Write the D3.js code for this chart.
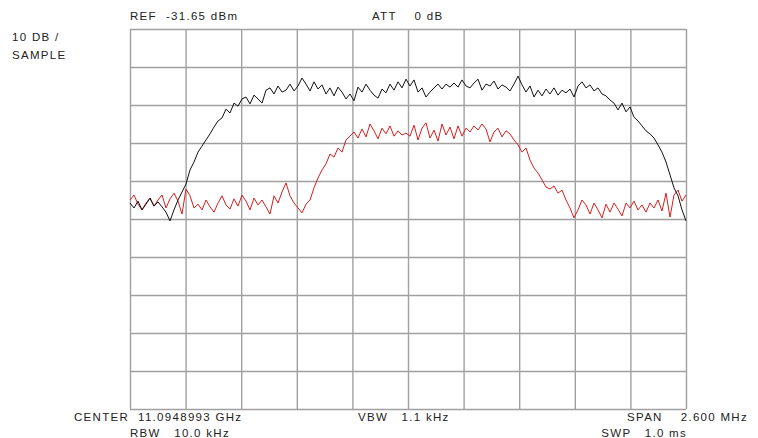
<!DOCTYPE html>
<html>
    <head>
        <meta charset="utf-8">
        <title>Spectrum Trace</title>
        <script type="text/javascript" src="https://d3js.org/d3.v7.min.js"></script>
        <style>
            body { margin: 0; background: #fff; }
            text { font-family: "Liberation Sans", Arial, sans-serif; font-size: 11.5px; fill: #222; letter-spacing: 1.3px; }
        </style>
    </head>
    <body>
        <svg id="svg"></svg>

        <script>

            var WIDTH = 758;
            var HEIGHT = 438;
            var LEFT = 130, RIGHT = 686, TOP = 29, BOTTOM = 409;

            // span 2.6 MHz around center, 10 dB / div below REF
            var SPAN = 2.6;
            var DIVS = 10;
            var N = 140;

            // trace levels in dB relative to REF, equally spaced across the span
            var blackTrace = [
                -45.8,-47.1,-45.3,-47.6,-46.1,-44.5,-46.6,-45.5,-46.8,-48.2,
                -50.5,-47.6,-45.0,-42.9,-40.8,-37.1,-35.0,-32.4,-30.8,-29.2,
                -27.6,-25.8,-24.2,-23.4,-21.1,-22.1,-19.5,-20.3,-18.4,-17.9,
                -19.7,-17.4,-18.4,-19.5,-16.1,-15.5,-17.1,-15.0,-16.6,-16.1,
                -14.5,-16.3,-15.0,-12.9,-14.5,-16.3,-13.9,-15.8,-14.7,-17.1,
                -15.5,-17.6,-15.3,-16.6,-18.4,-17.1,-18.9,-15.3,-16.6,-14.5,
                -16.1,-17.4,-18.2,-15.8,-16.8,-14.5,-16.1,-13.9,-15.5,-13.2,
                -15.0,-13.4,-16.6,-15.5,-17.9,-16.6,-15.5,-14.5,-15.8,-14.5,
                -15.3,-14.2,-15.3,-13.4,-15.0,-15.5,-14.2,-13.2,-16.1,-14.5,
                -15.0,-13.7,-15.8,-14.7,-15.3,-16.3,-14.5,-12.4,-14.7,-16.6,
                -15.0,-17.9,-16.1,-17.6,-15.8,-17.1,-15.5,-17.4,-16.1,-16.8,
                -15.8,-17.9,-15.0,-13.9,-15.5,-14.7,-16.3,-15.5,-17.1,-17.6,
                -18.7,-19.5,-21.3,-19.5,-21.8,-20.5,-23.2,-24.2,-25.5,-26.8,
                -27.6,-28.7,-30.5,-32.4,-35.0,-38.4,-41.8,-43.9,-47.6,-50.5
            ];

            var redTrace = [
                -45.0,-43.7,-46.1,-47.6,-45.8,-44.5,-46.6,-45.0,-43.7,-47.1,
                -44.7,-43.2,-45.3,-48.7,-42.1,-43.9,-47.1,-46.1,-47.6,-45.0,
                -46.8,-48.2,-45.8,-43.9,-46.3,-47.4,-44.7,-46.6,-43.7,-45.3,
                -47.6,-44.5,-46.3,-45.0,-46.8,-48.7,-43.9,-45.8,-42.9,-40.5,
                -43.9,-45.8,-47.1,-48.4,-46.1,-45.0,-41.8,-39.2,-37.1,-35.5,
                -32.9,-33.7,-31.3,-32.4,-29.2,-28.2,-27.1,-28.7,-26.3,-28.4,
                -25.0,-26.8,-28.9,-26.1,-27.6,-25.5,-28.2,-26.8,-27.9,-27.4,
                -28.2,-25.3,-29.2,-26.1,-24.7,-28.7,-26.6,-29.5,-25.0,-27.9,
                -25.8,-28.9,-25.5,-28.2,-26.1,-27.1,-25.5,-26.6,-25.0,-26.3,
                -29.7,-27.1,-26.1,-28.4,-26.8,-27.6,-29.2,-30.5,-32.4,-31.3,
                -34.5,-36.6,-37.9,-39.7,-41.6,-42.1,-41.3,-43.2,-42.4,-45.0,
                -47.1,-49.7,-47.6,-45.0,-46.3,-48.7,-45.8,-47.6,-49.7,-46.1,
                -48.2,-45.8,-47.4,-49.2,-45.8,-47.1,-45.3,-47.6,-46.3,-48.2,
                -45.8,-47.1,-45.0,-47.9,-43.2,-49.5,-43.7,-42.4,-45.3,-43.7
            ];

            var headerLabels = [
                { t: "REF  -31.65 dBm", x: 130, y: 20, a: "start" },
                { t: "ATT    0 dB", x: 372, y: 20, a: "start" },
                { t: "10 DB /", x: 12, y: 41, a: "start" },
                { t: "SAMPLE", x: 12, y: 59, a: "start" }
            ];
            var footerLabels = [
                { t: "CENTER  11.0948993 GHz", x: 74, y: 421, a: "start" },
                { t: "RBW   10.0 kHz", x: 130, y: 437, a: "start" },
                { t: "VBW   1.1 kHz", x: 358, y: 421, a: "start" },
                { t: "SPAN    2.600 MHz", x: 748, y: 421, a: "end" },
                { t: "SWP   1.0 ms", x: 687, y: 437, a: "end" }
            ];

            var svg = d3.select('#svg')
                        .attr('width', WIDTH)
                        .attr('height', HEIGHT);

            var x = d3.scaleLinear().domain([-SPAN/2, SPAN/2]).range([LEFT, RIGHT]);
            var y = d3.scaleLinear().domain([-100, 0]).range([BOTTOM, TOP]);
            var freqAt = function(i){ return -SPAN/2 + i*SPAN/(N-1); };

            var xTicks = d3.range(DIVS+1).map(function(i){ return -SPAN/2 + i*SPAN/DIVS; });
            var yTicks = d3.range(DIVS+1).map(function(i){ return -100 + i*10; });

            svg.append('g')
               .attr('transform', 'translate(0,' + BOTTOM + ')')
               .call(d3.axisBottom(x).tickValues(xTicks).tickSize(-(BOTTOM-TOP)).tickFormat(''));
            svg.append('g')
               .attr('transform', 'translate(' + LEFT + ',0)')
               .call(d3.axisLeft(y).tickValues(yTicks).tickSize(-(RIGHT-LEFT)).tickFormat(''));
            svg.selectAll('.domain').remove();
            svg.selectAll('.tick line')
               .attr('stroke', '#a0a0a0')
               .attr('stroke-width', 1.4);

            var line = d3.line()
                .x(function(d,i){ return x(freqAt(i)); })
                .y(function(d){ return y(d); });

            svg.append('path')
               .datum(redTrace)
               .attr('d', line)
               .attr('fill', 'none')
               .attr('stroke', '#d81e1e')
               .attr('stroke-width', 1);

            svg.append('path')
               .datum(blackTrace)
               .attr('d', line)
               .attr('fill', 'none')
               .attr('stroke', '#111')
               .attr('stroke-width', 1);

            svg.selectAll('text.lbl')
               .data(headerLabels.concat(footerLabels))
               .enter()
               .append('text')
               .attr('class', 'lbl')
               .attr('x', function(d){ return d.x; })
               .attr('y', function(d){ return d.y; })
               .attr('text-anchor', function(d){ return d.a; })
               .style('white-space', 'pre')
               .text(function(d){ return d.t; });

        </script>
    </body>
</html>
